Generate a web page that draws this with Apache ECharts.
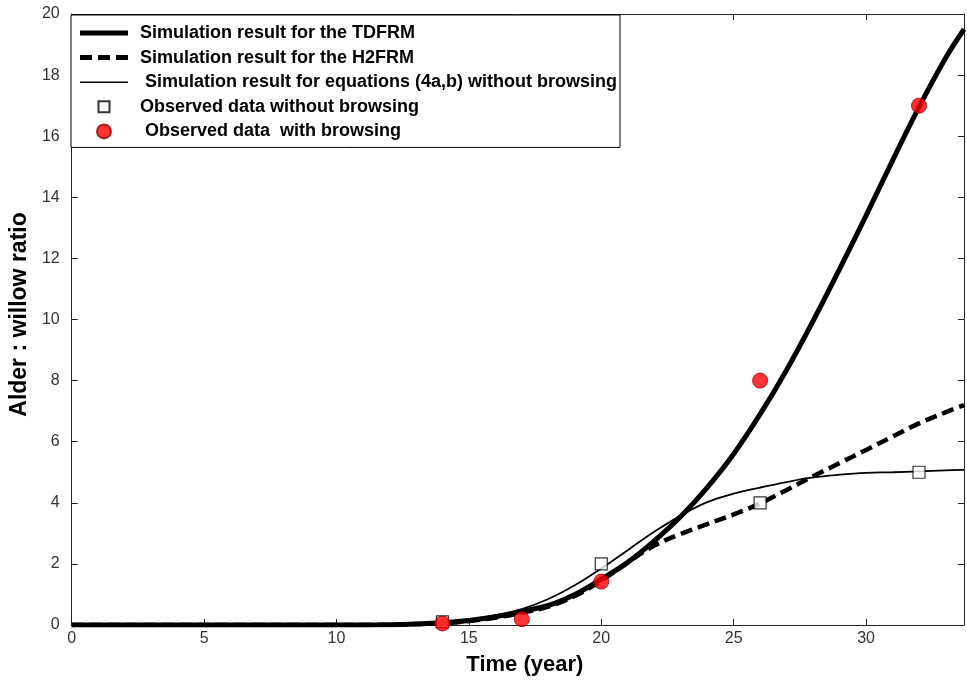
<!DOCTYPE html>
<html>
<head>
<meta charset="utf-8">
<script src="https://cdn.jsdelivr.net/npm/echarts@6/dist/echarts.min.js"></script>
<style>
html,body{margin:0;padding:0;background:#fff;}
#chart{width:967px;height:681px;}
</style>
</head>
<body>
<div id="chart"></div>
<script>
// Series names
var nameTDFRM = 'Simulation result for the TDFRM';
var nameH2FRM = 'Simulation result for the H2FRM';
var nameEq = ' Simulation result for equations (4a,b) without browsing';
var nameObsNo = 'Observed data without browsing';
var nameObsBr = ' Observed data  with browsing';

// TDFRM simulation (thick solid)
var tdX = [0, 10, 12, 13, 14, 15, 16, 17, 18, 19, 20, 21, 22, 23, 24, 25, 26, 27, 28, 29, 30, 31, 32, 33, 33.7];
var tdY = [0, 0, 0.01, 0.03, 0.07, 0.15, 0.27, 0.45, 0.64, 1.0, 1.5, 2.05, 2.75, 3.55, 4.5, 5.6, 6.9, 8.35, 9.95, 11.65, 13.4, 15.2, 16.95, 18.55, 19.5];

// H2FRM simulation (thick dashed)
var h2X = [0, 10, 12, 13, 14, 15, 16, 17, 18, 19, 20, 21, 22, 23, 24, 25, 26, 27, 28, 29, 30, 31, 32, 33, 33.7];
var h2Y = [0, 0, 0.01, 0.03, 0.06, 0.13, 0.24, 0.4, 0.6, 0.95, 1.45, 2.05, 2.6, 2.98, 3.3, 3.62, 3.98, 4.42, 4.87, 5.3, 5.73, 6.17, 6.6, 6.96, 7.2];

// Equations (4a,b) without browsing (thin solid)
var eqX = [11.3, 12, 13, 14, 15, 16, 17, 18, 19, 20, 21, 22, 23, 24, 25, 26, 27, 28, 29, 30, 31, 32, 33, 33.7];
var eqY = [0, 0.01, 0.04, 0.1, 0.18, 0.32, 0.52, 0.85, 1.3, 1.85, 2.45, 3.05, 3.58, 4.02, 4.3, 4.5, 4.68, 4.83, 4.92, 4.98, 5.0, 5.03, 5.06, 5.08];

// Observed data
var obsNoX = [14, 20, 26, 32];
var obsNoY = [0.1, 2, 4, 5];
var obsBrX = [14, 17, 20, 26, 32];
var obsBrY = [0.05, 0.19, 1.42, 8, 17];

// Axis ticks
var xTicks = [0, 5, 10, 15, 20, 25, 30];
var yTicks = [0, 2, 4, 6, 8, 10, 12, 14, 16, 18, 20];

function pairs(xs, ys) { return xs.map(function (x, i) { return [x, ys[i]]; }); }

var chart = echarts.init(document.getElementById('chart'));
var FONT = 'Liberation Sans, Arial, sans-serif';
var axisFont = { fontFamily: FONT, fontSize: 16, color: '#333' };
var xMax = 33.7;
var axisLineStyle = { color: '#222', width: 1 };

chart.setOption({
  animation: false,
  backgroundColor: '#fff',
  grid: { left: 70, right: 1, top: 14, bottom: 56 },
  legend: {
    orient: 'vertical',
    left: 71, top: 15,
    padding: [8, 3, 6, 9],
    backgroundColor: '#fff',
    borderColor: '#000', borderWidth: 1,
    itemWidth: 48, itemHeight: 14, itemGap: 4.6,
    textStyle: { fontFamily: FONT, fontSize: 18, fontWeight: 'bold', color: '#000', padding: [0, 0, 0, 7], lineHeight: 20 },
    data: [
      { name: nameTDFRM, icon: 'path://M0,0H48V5H0Z', itemStyle: { color: '#000', borderWidth: 0 } },
      { name: nameH2FRM, icon: 'path://M0,0H12V5H0ZM18,0H30V5H18ZM36,0H48V5H36Z', itemStyle: { color: '#000', borderWidth: 0 } },
      { name: nameEq, icon: 'path://M0,0H48V1.6H0Z', itemStyle: { color: '#000', borderWidth: 0 } },
      { name: nameObsNo, icon: 'path://M0,0M1.5,1.5H12.5V12.5H1.5ZM14,14' },
      { name: nameObsBr, icon: 'circle' }
    ]
  },
  xAxis: [{
    type: 'value', min: 0, max: xMax, interval: 5,
    name: 'Time (year)', nameLocation: 'middle', nameGap: 29,
    nameTextStyle: { fontFamily: FONT, fontSize: 22, fontWeight: 'bold', color: '#000', padding: [0, 0, 0, 14] },
    axisLine: { onZero: false, lineStyle: axisLineStyle },
    axisTick: { inside: true, length: 6, lineStyle: { color: '#222' } },
    axisLabel: Object.assign({ margin: 6, formatter: function (v) { return xTicks.indexOf(v) >= 0 ? String(v) : ''; } }, axisFont),
    splitLine: { show: false }
  }, {
    type: 'value', min: 0, max: xMax, interval: 5, position: 'top',
    axisLine: { show: true, onZero: false, lineStyle: axisLineStyle },
    axisTick: { inside: true, length: 6, lineStyle: { color: '#222' } },
    axisLabel: { show: false }, splitLine: { show: false }
  }],
  yAxis: [{
    type: 'value', min: 0, max: 20, interval: 2,
    name: 'Alder : willow ratio', nameLocation: 'middle', nameGap: 34, nameRotate: 90,
    nameTextStyle: { fontFamily: FONT, fontSize: 23, fontWeight: 'bold', color: '#000', padding: [0, 0, 0, 10] },
    axisLine: { show: true, onZero: false, lineStyle: axisLineStyle },
    axisTick: { show: true, inside: true, length: 6, lineStyle: { color: '#222' } },
    axisLabel: Object.assign({ margin: 12, formatter: function (v) { return yTicks.indexOf(v) >= 0 ? String(v) : ''; } }, axisFont),
    splitLine: { show: false }
  }, {
    type: 'value', min: 0, max: 20, interval: 2, position: 'right',
    axisLine: { show: true, onZero: false, lineStyle: axisLineStyle },
    axisTick: { show: true, inside: true, length: 6, lineStyle: { color: '#222' } },
    axisLabel: { show: false }, splitLine: { show: false }
  }],
  series: [{
    name: nameTDFRM, type: 'line', smooth: 0.4, symbol: 'none',
    data: pairs(tdX, tdY),
    lineStyle: { color: '#000', width: 5 }, itemStyle: { color: '#000' }, z: 3
  }, {
    name: nameH2FRM, type: 'line', smooth: 0.4, symbol: 'none',
    data: pairs(h2X, h2Y),
    lineStyle: { color: '#000', width: 4.5, type: [12, 6] }, itemStyle: { color: '#000' }, z: 3
  }, {
    name: nameEq, type: 'line', smooth: 0.4, symbol: 'none',
    data: pairs(eqX, eqY),
    lineStyle: { color: '#000', width: 1.8 }, itemStyle: { color: '#000' }, z: 3
  }, {
    name: nameObsNo, type: 'scatter', symbol: 'rect', symbolSize: 12,
    data: pairs(obsNoX, obsNoY),
    itemStyle: { color: '#fff', borderColor: '#000', borderWidth: 1.2 }, z: 4
  }, {
    name: nameObsBr, type: 'scatter', symbol: 'circle', symbolSize: 15,
    data: pairs(obsBrX, obsBrY),
    itemStyle: { color: '#f00', borderColor: '#900', borderWidth: 1 }, z: 5
  }]
});
</script>
</body>
</html>
